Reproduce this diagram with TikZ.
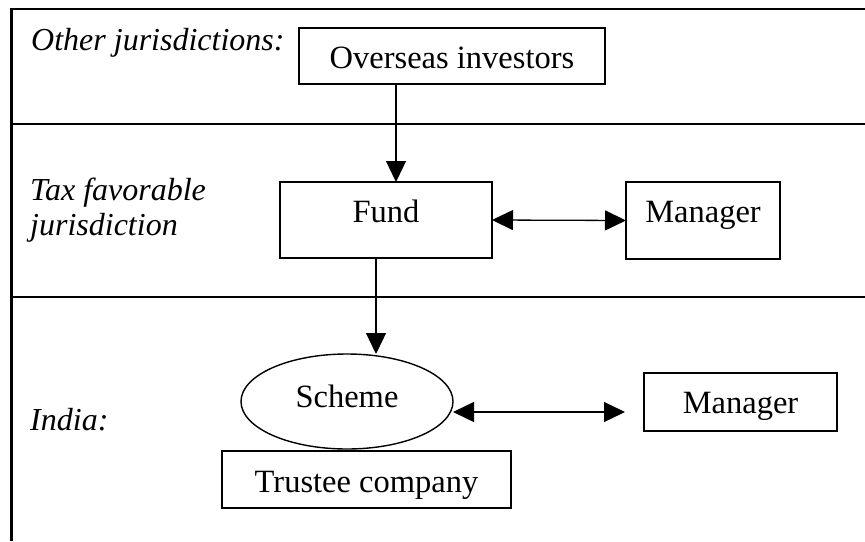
\documentclass[tikz,border=0pt]{standalone}
\usepackage{fontspec}
\setmainfont{Liberation Serif}
\usetikzlibrary{arrows.meta,shapes.geometric}
\begin{document}
\begin{tikzpicture}[x=1pt,y=-1pt,
  frame/.style={line width=2.2pt},
  box/.style={draw,line width=1.4pt,rectangle,inner sep=0pt,outer sep=0pt,font=\fontsize{32.5}{36}\selectfont},
  oval/.style={draw,line width=1.4pt,ellipse,inner sep=0pt,outer sep=0pt,font=\fontsize{32.5}{36}\selectfont},
  lab/.style={font=\fontsize{32}{35}\selectfont\itshape,inner sep=0pt,align=left},
  conn/.style={line width=1.3pt,-{Triangle[length=21pt,width=20pt]}},
  dconn/.style={line width=1.3pt,{Triangle[length=21pt,width=20pt]}-{Triangle[length=21pt,width=20pt]}}]
\useasboundingbox (0,0) rectangle (865,541);
% frame
\draw[frame] (11.5,541) -- (11.5,9) -- (865,9);
\draw[frame] (11.5,124) -- (865,124);
\draw[frame] (11.5,297) -- (865,297);
% labels
\node[lab,anchor=base west] (l1) at (31,50) {Other jurisdictions:};
\node[lab,anchor=base west] (l2) at (30,235) {Tax favorable\\jurisdiction};
\node[lab,anchor=base west] (l3) at (30,430) {India:};
% nodes
\node[box,minimum width=306pt,minimum height=56pt,text height=24pt,text depth=0pt] (ov) at (452,56) {Overseas investors};
\node[box,minimum width=212pt,minimum height=76pt,text height=20pt,text depth=16pt] (fund) at (386,220) {Fund};
\node[box,minimum width=154pt,minimum height=77pt,text height=20pt,text depth=17pt] (mgra) at (703,220.5) {Manager};
\node[oval,minimum width=212pt,minimum height=95pt,text height=20pt,text depth=9pt] (scheme) at (347,401.5) {Scheme};
\node[box,minimum width=289pt,minimum height=57pt,text height=25pt,text depth=0pt] (trustee) at (366.5,479.5) {Trustee company};
\node[box,minimum width=193pt,minimum height=58pt,text height=22pt,text depth=0pt] (mgrb) at (740.5,402) {Manager};
% connectors
\coordinate (c1) at (396,0);
\coordinate (c2) at (376,0);
\coordinate (c3) at (625,412);
\draw[conn] (ov.south -| c1) -- (fund.north -| c1);
\draw[conn] (fund.south -| c2) -- (scheme.north -| c2);
\draw[dconn] (fund.east) -- (mgra.west);
\draw[dconn] (scheme.east |- c3) -- (c3);
\end{tikzpicture}
\end{document}
